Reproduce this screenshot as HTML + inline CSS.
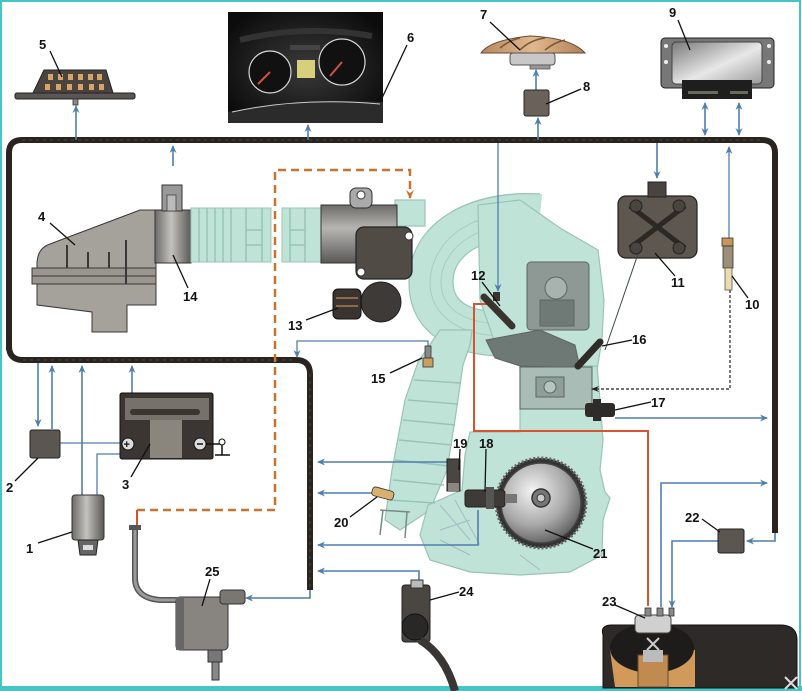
<!DOCTYPE html>
<html><head><meta charset="utf-8"><style>
html,body{margin:0;padding:0;background:#fff;}
svg{display:block;}
text{font-family:"Liberation Sans",sans-serif;font-weight:bold;font-size:13px;fill:#111;}
</style></head><body>
<svg width="802" height="691" viewBox="0 0 802 691" xmlns="http://www.w3.org/2000/svg">
<defs>
<marker id="ab" markerWidth="8" markerHeight="8" refX="7" refY="4" orient="auto" markerUnits="userSpaceOnUse"><path d="M0,0.5 L8,4 L0,7.5 L2.5,4 Z" fill="#4f7fae"/></marker>
<marker id="abs" markerWidth="8" markerHeight="8" refX="1" refY="4" orient="auto" markerUnits="userSpaceOnUse"><path d="M8,0.5 L0,4 L8,7.5 L5.5,4 Z" fill="#4f7fae"/></marker>
<marker id="ao" markerWidth="9" markerHeight="9" refX="8" refY="4.5" orient="auto" markerUnits="userSpaceOnUse"><path d="M0,0.5 L9,4.5 L0,8.5 L3,4.5 Z" fill="#c8742e"/></marker>
<marker id="ak" markerWidth="8" markerHeight="8" refX="7" refY="4" orient="auto" markerUnits="userSpaceOnUse"><path d="M0,1 L8,4 L0,7 L2.5,4 Z" fill="#222"/></marker>
<linearGradient id="gcyl" x1="0" y1="0" x2="0" y2="1"><stop offset="0" stop-color="#6d6b68"/><stop offset="0.4" stop-color="#b8b6b2"/><stop offset="1" stop-color="#5a5856"/></linearGradient>
<linearGradient id="gcylh" x1="0" y1="0" x2="1" y2="0"><stop offset="0" stop-color="#6d6b68"/><stop offset="0.45" stop-color="#c4c2be"/><stop offset="1" stop-color="#5a5856"/></linearGradient>
<linearGradient id="gecu" x1="0" y1="0" x2="1" y2="1"><stop offset="0" stop-color="#7a7a7a"/><stop offset="0.55" stop-color="#e8e8e8"/><stop offset="1" stop-color="#9a9a9a"/></linearGradient>
<linearGradient id="gmush" x1="0" y1="0" x2="1" y2="0"><stop offset="0" stop-color="#b88860"/><stop offset="0.5" stop-color="#e0b88e"/><stop offset="1" stop-color="#b08058"/></linearGradient>
<radialGradient id="gpul" cx="0.4" cy="0.35" r="0.7"><stop offset="0" stop-color="#f4f4f4"/><stop offset="0.6" stop-color="#a9a9a9"/><stop offset="1" stop-color="#5c5c5c"/></radialGradient>
<radialGradient id="gdash" cx="0.5" cy="0.5" r="0.6"><stop offset="0" stop-color="#3a3a3a"/><stop offset="1" stop-color="#0c0c0c"/></radialGradient>
</defs>

<!-- frame -->
<rect x="0" y="0" width="802" height="691" fill="#fff"/>
<rect x="1" y="1" width="799" height="686" fill="none" stroke="#45c6c6" stroke-width="2"/>
<rect x="0" y="686" width="802" height="5" fill="#45c6c6"/>

<!-- ===== ENGINE (light cyan) ===== -->
<g fill="#c0e3d7" stroke="#98c4b7" stroke-width="1.2">
  <rect x="395" y="200" width="30" height="26"/>
  <path d="M540,216 C478,210 432,238 431,282 C431,316 460,334 505,334" fill="none" stroke="#c0e3d7" stroke-width="44"/>
  <path d="M540,194 C470,190 409,222 409,282 C409,332 450,356 505,356" fill="none" stroke="#98c4b7" stroke-width="1.2"/>
  <path d="M540,238 C492,234 453,250 453,282 C453,304 472,312 505,312" fill="none" stroke="#98c4b7" stroke-width="1.2"/>
  <path d="M535,214 C478,208 432,236 430,282 C430,316 460,336 505,336" fill="none" stroke="#a7cdc1" stroke-width="1"/>
  <path d="M535,224 C484,220 442,244 441,282 C441,310 466,324 505,324" fill="none" stroke="#a7cdc1" stroke-width="1"/>
  <!-- head region -->
  <path d="M478,205 L520,200 L560,228 L598,250 L604,300 L602,340 L597,370 L520,370 L520,360 L498,352 L480,300 Z"/>
  <!-- exhaust pipe / cat -->
  <path d="M440,330 L472,330 L470,345 L463,365 L455,420 L447,470 L430,510 L400,530 L385,520 L392,470 L405,400 L418,362 Z"/>
  <!-- lower block -->
  <path d="M520,366 L597,366 L600,400 L603,440 L600,470 L605,492 L610,498 L603,520 L602,555 L570,572 L520,575 L470,572 L430,560 L420,535 L428,505 L462,490 L465,455 L470,432 L520,432 Z"/>
</g>
<!-- cat ribs -->
<g stroke="#98c4b7" stroke-width="1.5" fill="none">
  <line x1="414" y1="380" x2="461" y2="383"/>
  <line x1="408" y1="400" x2="458" y2="404"/>
  <line x1="403" y1="420" x2="455" y2="425"/>
  <line x1="399" y1="440" x2="452" y2="445"/>
  <line x1="395" y1="460" x2="449" y2="466"/>
  <line x1="393" y1="480" x2="444" y2="485"/>
  <line x1="390" y1="500" x2="435" y2="503"/>
</g>
<!-- exhaust bracket -->
<g stroke="#7a8a85" stroke-width="1.5" fill="none">
  <path d="M380,510 L410,512"/><line x1="383" y1="510" x2="380" y2="535"/><line x1="407" y1="512" x2="405" y2="538"/>
</g>
<!-- head details gray -->
<g fill="#7f8b87" stroke="#5c6663" stroke-width="1">
  <rect x="527" y="262" width="62" height="68" rx="4" fill="#8e9995"/>
  <circle cx="556" cy="288" r="11" fill="#a8b3af"/>
  <rect x="540" y="300" width="34" height="26" fill="#6f7a76"/>
  <path d="M486,340 L540,330 L575,345 L580,368 L520,366 L495,358 Z" fill="#6e7975"/>
  <rect x="520" y="367" width="72" height="42" fill="#a9bcb5"/>
  <rect x="536" y="377" width="28" height="20" fill="#8e9f99"/>
  <circle cx="550" cy="387" r="6" fill="#b6c5bf"/>
</g>
<g stroke="#9ab" stroke-width="1" fill="none" opacity="0.7">
  <path d="M440,505 L470,540 M455,500 L480,545 M440,540 L470,555 M520,555 L540,570 M470,520 L440,530"/>
</g>

<!-- pulley 21 -->
<circle cx="541" cy="503" r="45" fill="#333" />
<circle cx="541" cy="503" r="45" fill="none" stroke="#666" stroke-width="3" stroke-dasharray="2 2"/>
<circle cx="541" cy="503" r="40" fill="url(#gpul)" stroke="#444" stroke-width="1.5"/>
<circle cx="541" cy="498" r="9" fill="#777" stroke="#333" stroke-width="1.5"/>
<circle cx="541" cy="498" r="4" fill="#ccc" stroke="#333"/>

<!-- ===== HARNESS ===== -->
<g fill="none" stroke="#2a2420" stroke-linecap="butt">
  <path d="M9,350 L9,153 Q9,140 22,140 L762,140 Q775,140 775,153 L775,533" stroke-width="6"/>
  <path d="M9,346 Q9,360 23,360 L296,360 Q310,360 310,374 L310,590" stroke-width="6"/>
</g>
<g fill="none" stroke="#6a5a48" stroke-width="1" stroke-dasharray="3 4" opacity="0.6">
  <path d="M22,140 L762,140"/><path d="M23,360 L296,360"/><path d="M310,374 L310,590"/>
</g>

<!-- ===== ORANGE DASHED / RED ===== -->
<path d="M137,510 L275,510 L275,170 L410,170 L410,198" fill="none" stroke="#c8742e" stroke-width="2.5" stroke-dasharray="8 5" marker-end="url(#ao)"/>
<line x1="137" y1="510" x2="137" y2="526" stroke="#d8502a" stroke-width="2"/>
<path d="M487,304 L474,304 L474,431 L648,431 L648,606" fill="none" stroke="#d9532e" stroke-width="2"/>

<!-- ===== BLUE CONNECTORS ===== -->
<g fill="none" stroke="#4f7fae" stroke-width="1.6">
  <line x1="76" y1="140" x2="76" y2="106" marker-end="url(#ab)"/>
  <line x1="173" y1="166" x2="173" y2="146" marker-end="url(#ab)"/>
  <line x1="308" y1="140" x2="308" y2="125" marker-end="url(#ab)"/>
  <line x1="538" y1="140" x2="538" y2="118" marker-end="url(#ab)"/>
  <line x1="536" y1="90" x2="536" y2="70" marker-end="url(#ab)"/>
  <line x1="705" y1="103" x2="705" y2="135" marker-end="url(#ab)" marker-start="url(#abs)"/>
  <line x1="739" y1="103" x2="739" y2="135" marker-end="url(#ab)" marker-start="url(#abs)"/>
  <line x1="657" y1="143" x2="657" y2="178" marker-end="url(#ab)"/>
  <line x1="498" y1="143" x2="498" y2="291" marker-end="url(#ab)" stroke-width="1.3"/>
  <line x1="729" y1="238" x2="729" y2="147" marker-end="url(#ab)" stroke-width="1.3"/>
  <path d="M428,346 L428,341 L297,341 L297,357" marker-end="url(#ab)" stroke-width="1.3"/>
  <line x1="38" y1="363" x2="38" y2="426" marker-end="url(#ab)"/>
  <line x1="52" y1="429" x2="52" y2="366" marker-end="url(#ab)"/>
  <line x1="82" y1="495" x2="82" y2="366" marker-end="url(#ab)"/>
  <line x1="132" y1="438" x2="132" y2="366" marker-end="url(#ab)"/>
  <line x1="60" y1="443" x2="124" y2="443" stroke-width="1.3"/>
  <path d="M97,495 L97,454 L124,454" stroke-width="1.3"/>
  <line x1="615" y1="418" x2="767" y2="418" marker-end="url(#ab)"/>
  <path d="M661,607 L661,483 L767,483" marker-end="url(#ab)"/>
  <path d="M775,533 L775,541 L747,541" marker-end="url(#ab)"/>
  <path d="M718,541 L672,541 L672,607" marker-end="url(#ab)"/>
  <line x1="450" y1="462" x2="318" y2="462" marker-end="url(#ab)"/>
  <line x1="372" y1="493" x2="318" y2="493" marker-end="url(#ab)"/>
  <path d="M478,510 L478,545 L318,545" marker-end="url(#ab)"/>
  <path d="M419,585 L419,571 L318,571" marker-end="url(#ab)"/>
  <path d="M310,590 L310,598 L246,598" marker-end="url(#ab)"/>
</g>
<!-- black dashed from 10 -->
<path d="M730,290 L730,389 L592,389" fill="none" stroke="#222" stroke-width="1.2" stroke-dasharray="3 2" marker-end="url(#ak)"/>

<!-- ===== COMPONENTS ===== -->
<!-- 5 diagnostic connector -->
<rect x="15" y="93" width="120" height="6" rx="2" fill="#5a5654" stroke="#222"/>
<path d="M33,93 L44,70 L106,70 L113,93 Z" fill="#4a4440" stroke="#222"/>
<g fill="#d9a567">
  <rect x="48" y="74" width="5" height="6"/><rect x="58" y="74" width="5" height="6"/><rect x="68" y="74" width="5" height="6"/><rect x="78" y="74" width="5" height="6"/><rect x="88" y="74" width="5" height="6"/><rect x="97" y="74" width="5" height="6"/>
  <rect x="45" y="84" width="5" height="6"/><rect x="56" y="84" width="5" height="6"/><rect x="67" y="84" width="5" height="6"/><rect x="78" y="84" width="5" height="6"/><rect x="89" y="84" width="5" height="6"/><rect x="99" y="84" width="5" height="6"/>
</g>
<rect x="73" y="99" width="5" height="6" fill="#888" stroke="#333" stroke-width="0.8"/>

<!-- 6 dashboard -->
<rect x="228" y="12" width="155" height="111" fill="url(#gdash)"/>
<path d="M228,112 Q300,98 383,102 L383,123 L228,123 Z" fill="#2b2b2b"/>
<path d="M232,112 Q300,97 380,104" fill="none" stroke="#cfcfcf" stroke-width="1"/>
<path d="M240,40 Q305,24 372,36" fill="none" stroke="#333" stroke-width="6"/>
<circle cx="270" cy="72" r="21" fill="#111" stroke="#d8d8d8" stroke-width="1.2"/>
<circle cx="342" cy="62" r="23" fill="#111" stroke="#d8d8d8" stroke-width="1.2"/>
<line x1="270" y1="72" x2="258" y2="84" stroke="#d05040" stroke-width="2"/>
<line x1="342" y1="62" x2="330" y2="76" stroke="#d05040" stroke-width="2"/>
<rect x="297" y="60" width="18" height="18" fill="#d8cf7a"/>
<rect x="290" y="45" width="30" height="5" fill="#444"/>

<!-- 7 -->
<path d="M481,53 Q490,40 530,36 Q572,38 585,53 Z" fill="url(#gmush)" stroke="#6a4a30"/>
<path d="M500,48 Q510,40 520,38 M520,50 Q530,40 545,38 M545,50 Q555,42 565,40" stroke="#7a5538" fill="none" stroke-width="1.5"/>
<rect x="510" y="53" width="45" height="12" rx="3" fill="#c8c8c8" stroke="#555"/>
<rect x="530" y="65" width="20" height="4" fill="#999" stroke="#555" stroke-width="0.8"/>

<!-- 8 -->
<rect x="524" y="90" width="25" height="26" rx="2" fill="#6a625a" stroke="#2a2622"/>

<!-- 9 ECU -->
<rect x="661" y="38" width="113" height="50" rx="4" fill="#777" stroke="#222"/>
<rect x="672" y="42" width="90" height="42" rx="4" fill="url(#gecu)" stroke="#444"/>
<circle cx="666" cy="46" r="2" fill="#eee"/><circle cx="769" cy="46" r="2" fill="#eee"/><circle cx="666" cy="62" r="2" fill="#eee"/><circle cx="769" cy="62" r="2" fill="#eee"/>
<rect x="682" y="80" width="70" height="19" fill="#1e1e1e"/>
<rect x="688" y="91" width="30" height="3" fill="#6a6a5a"/><rect x="730" y="91" width="18" height="3" fill="#6a6a5a"/>

<!-- 10 temp sensor -->
<rect x="722" y="238" width="11" height="8" fill="#c8955a" stroke="#333" stroke-width="0.8"/>
<rect x="723" y="246" width="10" height="22" fill="#9a8e78" stroke="#333" stroke-width="0.8"/>
<rect x="725" y="268" width="7" height="22" fill="#ecdcae" stroke="#555" stroke-width="0.8"/>

<!-- 11 ignition coil -->
<rect x="618" y="196" width="79" height="62" rx="8" fill="#5e5750" stroke="#222" stroke-width="1.2"/>
<path d="M630,206 L685,248 M685,206 L630,248" stroke="#2c2824" stroke-width="5"/>
<circle cx="636" cy="206" r="6" fill="#4a443e" stroke="#222"/><circle cx="679" cy="206" r="6" fill="#4a443e" stroke="#222"/>
<circle cx="636" cy="248" r="6" fill="#4a443e" stroke="#222"/><circle cx="679" cy="248" r="6" fill="#4a443e" stroke="#222"/>
<rect x="648" y="182" width="18" height="15" fill="#4a443e" stroke="#222"/>
<line x1="638" y1="254" x2="605" y2="350" stroke="#3a4a48" stroke-width="1"/>

<!-- 4 air filter -->
<path d="M37,262 Q38,248 50,244 L140,210 L156,210 L156,268 L37,268 Z" fill="#a5a19b" stroke="#3a3836"/>
<rect x="32" y="268" width="124" height="16" fill="#9a968f" stroke="#3a3836"/>
<line x1="32" y1="276" x2="156" y2="276" stroke="#3a3836"/>
<path d="M37,284 L156,284 L156,305 L127,305 L127,332 L92,332 L92,312 L37,305 Z" fill="#a5a19b" stroke="#3a3836"/>
<g stroke="#3a3836" stroke-width="2"><line x1="67" y1="245" x2="67" y2="268"/><line x1="88" y1="252" x2="88" y2="268"/><line x1="109" y1="252" x2="109" y2="268"/><line x1="126" y1="240" x2="126" y2="284"/></g>
<!-- 14 MAF -->
<rect x="155" y="210" width="36" height="53" fill="url(#gcylh)" stroke="#333"/>
<rect x="162" y="185" width="20" height="26" fill="#999" stroke="#333"/>
<rect x="167" y="195" width="9" height="16" fill="#bbb" stroke="#444" stroke-width="0.8"/>
<!-- hoses -->
<rect x="191" y="208" width="80" height="54" fill="#c0e3d7" stroke="#98c4b7"/>
<g stroke="#98c4b7" stroke-width="1.5"><line x1="199" y1="208" x2="199" y2="262"/><line x1="207" y1="208" x2="207" y2="262"/><line x1="215" y1="208" x2="215" y2="262"/><line x1="223" y1="208" x2="223" y2="262"/><line x1="231" y1="208" x2="231" y2="262"/><line x1="246" y1="208" x2="246" y2="262"/><line x1="262" y1="208" x2="262" y2="262"/><line x1="246" y1="230" x2="262" y2="230"/><line x1="246" y1="245" x2="262" y2="245"/></g>
<rect x="282" y="208" width="40" height="54" fill="#c0e3d7" stroke="#98c4b7"/>
<g stroke="#98c4b7" stroke-width="1.5"><line x1="290" y1="208" x2="290" y2="262"/><line x1="305" y1="208" x2="305" y2="262"/><line x1="290" y1="230" x2="305" y2="230"/><line x1="290" y1="245" x2="305" y2="245"/></g>
<!-- throttle body -->
<rect x="321" y="205" width="76" height="58" fill="url(#gcyl)" stroke="#333"/>
<rect x="350" y="188" width="22" height="20" rx="6" fill="#aaa" stroke="#333"/>
<circle cx="361" cy="195" r="4" fill="#fff" stroke="#333"/>
<rect x="356" y="227" width="56" height="52" rx="8" fill="#514b46" stroke="#222" stroke-width="1.2"/>
<circle cx="361" cy="272" r="4" fill="#fff" stroke="#333"/><circle cx="409" cy="236" r="4" fill="#fff" stroke="#333"/>
<!-- 13 TPS -->
<circle cx="381" cy="302" r="20" fill="#3e3a37" stroke="#222"/>
<rect x="333" y="289" width="28" height="30" rx="5" fill="#3a3430" stroke="#111"/>
<line x1="336" y1="298" x2="358" y2="298" stroke="#b07a4a" stroke-width="1.5"/>
<line x1="336" y1="306" x2="358" y2="306" stroke="#b07a4a" stroke-width="1.5"/>

<!-- 12 injector -->
<path d="M484,297 L512,326" stroke="#3a3430" stroke-width="7" stroke-linecap="round"/>
<rect x="493" y="292" width="7" height="9" fill="#3a3430"/>
<!-- 15 O2 sensor -->
<rect x="425" y="346" width="6" height="12" fill="#888" stroke="#333" stroke-width="0.8"/>
<rect x="423" y="358" width="10" height="9" fill="#c8a060" stroke="#333" stroke-width="0.8"/>
<!-- 16 -->
<path d="M578,366 L600,342" stroke="#2f2b28" stroke-width="7" stroke-linecap="round"/>
<!-- 17 -->
<rect x="585" y="403" width="30" height="14" rx="3" fill="#2f2b28"/>
<rect x="593" y="399" width="8" height="22" fill="#2f2b28"/>
<!-- 19 -->
<rect x="447" y="459" width="13" height="32" fill="#4a4642" stroke="#222"/>
<rect x="448" y="483" width="11" height="8" fill="#8a8680"/>
<!-- 20 -->
<rect x="372" y="489" width="22" height="9" rx="3" fill="#d9b070" stroke="#333" stroke-width="0.8" transform="rotate(15 383 493)"/>
<!-- 18 -->
<rect x="465" y="490" width="40" height="17" rx="3" fill="#3e3a37" stroke="#222"/>
<rect x="486" y="487" width="8" height="22" fill="#555"/>
<rect x="505" y="494" width="12" height="9" fill="#777"/>

<!-- 1 ignition switch -->
<rect x="72" y="495" width="32" height="45" rx="3" fill="url(#gcylh)" stroke="#333"/>
<path d="M78,540 L98,540 L96,555 L80,555 Z" fill="#666" stroke="#222"/>
<rect x="83" y="545" width="10" height="5" fill="#ddd"/>
<!-- 2 -->
<rect x="30" y="430" width="30" height="28" rx="2" fill="#5c5650" stroke="#222"/>
<!-- 3 battery -->
<rect x="120" y="393" width="93" height="66" rx="2" fill="#3c3632" stroke="#111"/>
<rect x="125" y="398" width="84" height="22" fill="#76716a"/>
<rect x="130" y="409" width="70" height="6" rx="3" fill="#3c3632"/>
<path d="M150,420 L182,420 L182,458 L150,458 Z" fill="#8a857d"/>
<circle cx="128" cy="444" r="6" fill="#ddd" stroke="#111"/><text x="123.5" y="448" style="font-size:11px">+</text>
<circle cx="200" cy="444" r="6" fill="#ddd" stroke="#111"/><line x1="197" y1="444" x2="203" y2="444" stroke="#111" stroke-width="1.5"/>
<path d="M206,444 L222,444 L222,455 M215,455 L230,455" stroke="#111" stroke-width="1.5" fill="none"/>
<circle cx="222" cy="442" r="3" fill="#fff" stroke="#111"/>

<!-- 25 canister -->
<path d="M135,527 L135,578 Q135,598 160,600 L180,600" fill="none" stroke="#555" stroke-width="6"/>
<path d="M135,527 L135,578 Q135,598 160,600 L180,600" fill="none" stroke="#9a9a9a" stroke-width="3"/>
<rect x="129" y="525" width="12" height="5" fill="#555"/>
<rect x="176" y="597" width="52" height="53" rx="4" fill="#888480" stroke="#333"/>
<rect x="176" y="597" width="8" height="53" fill="#666"/>
<rect x="220" y="590" width="25" height="14" rx="3" fill="#7a7672" stroke="#333"/>
<rect x="208" y="650" width="14" height="12" fill="#777" stroke="#333"/>
<rect x="212" y="662" width="7" height="18" fill="#888" stroke="#333"/>

<!-- 24 pedal -->
<rect x="402" y="585" width="28" height="57" rx="3" fill="#4a4642" stroke="#222"/>
<rect x="411" y="580" width="12" height="8" fill="#bbb" stroke="#333"/>
<circle cx="415" cy="627" r="13" fill="#2a2826" stroke="#111"/>
<path d="M420,640 Q445,655 455,691" fill="none" stroke="#3a3634" stroke-width="8"/>

<!-- 22 -->
<rect x="718" y="529" width="26" height="24" rx="2" fill="#5c5650" stroke="#222"/>

<!-- 23 tank -->
<path d="M603,635 Q600,625 612,625 L780,625 Q797,625 797,640 L797,688 L603,688 Z" fill="#2e2a28" stroke="#111"/>
<path d="M610,650 L695,650 L695,687 L615,687 Z" fill="#d29a5a"/>
<ellipse cx="652" cy="648" rx="42" ry="25" fill="#1e1c1a"/>
<rect x="638" y="655" width="30" height="32" fill="#c08a50" stroke="#6a4a2a"/>
<rect x="635" y="615" width="36" height="18" rx="4" fill="#d0d0d0" stroke="#444"/>
<rect x="645" y="608" width="6" height="8" fill="#888" stroke="#333" stroke-width="0.8"/>
<rect x="657" y="608" width="6" height="8" fill="#888" stroke="#333" stroke-width="0.8"/>
<rect x="669" y="608" width="5" height="8" fill="#888" stroke="#333" stroke-width="0.8"/>
<path d="M647,638 L659,650 M659,638 L647,650" stroke="#ccc" stroke-width="2"/>
<rect x="643" y="650" width="20" height="12" fill="#bbb"/>
<path d="M785,677 L797,689 M797,677 L785,689" stroke="#ddd" stroke-width="2"/>

<!-- ===== LEADERS ===== -->
<g stroke="#111" stroke-width="1.3" fill="none">
  <line x1="38" y1="543" x2="72" y2="532"/>
  <line x1="15" y1="481" x2="38" y2="458"/>
  <line x1="131" y1="477" x2="150" y2="444"/>
  <line x1="50" y1="223" x2="75" y2="245"/>
  <line x1="50" y1="51" x2="62" y2="77"/>
  <line x1="407" y1="45" x2="382" y2="98"/>
  <line x1="490" y1="22" x2="520" y2="50"/>
  <line x1="581" y1="89" x2="546" y2="104"/>
  <line x1="678" y1="20" x2="690" y2="50"/>
  <line x1="748" y1="298" x2="732" y2="276"/>
  <line x1="675" y1="276" x2="655" y2="253"/>
  <line x1="482" y1="282" x2="500" y2="306"/>
  <line x1="306" y1="320" x2="338" y2="308"/>
  <line x1="188" y1="288" x2="173" y2="255"/>
  <line x1="390" y1="373" x2="422" y2="358"/>
  <line x1="632" y1="340" x2="602" y2="346"/>
  <line x1="651" y1="402" x2="615" y2="410"/>
  <line x1="486" y1="449" x2="485" y2="492"/>
  <line x1="460" y1="449" x2="459" y2="470"/>
  <line x1="350" y1="517" x2="377" y2="497"/>
  <line x1="593" y1="549" x2="545" y2="530"/>
  <line x1="702" y1="519" x2="720" y2="532"/>
  <line x1="615" y1="605" x2="645" y2="618"/>
  <line x1="459" y1="592" x2="430" y2="600"/>
  <line x1="210" y1="579" x2="202" y2="606"/>
</g>

<!-- ===== LABELS ===== -->
<text x="26" y="553">1</text>
<text x="6" y="492">2</text>
<text x="122" y="489">3</text>
<text x="38" y="221">4</text>
<text x="39" y="49">5</text>
<text x="407" y="42">6</text>
<text x="480" y="19">7</text>
<text x="583" y="91">8</text>
<text x="669" y="17">9</text>
<text x="745" y="309">10</text>
<text x="671" y="287">11</text>
<text x="471" y="280">12</text>
<text x="288" y="330">13</text>
<text x="183" y="301">14</text>
<text x="371" y="383">15</text>
<text x="632" y="344">16</text>
<text x="651" y="407">17</text>
<text x="479" y="448">18</text>
<text x="453" y="448">19</text>
<text x="334" y="527">20</text>
<text x="593" y="558">21</text>
<text x="685" y="522">22</text>
<text x="602" y="606">23</text>
<text x="459" y="596">24</text>
<text x="205" y="576">25</text>
</svg>
</body></html>
